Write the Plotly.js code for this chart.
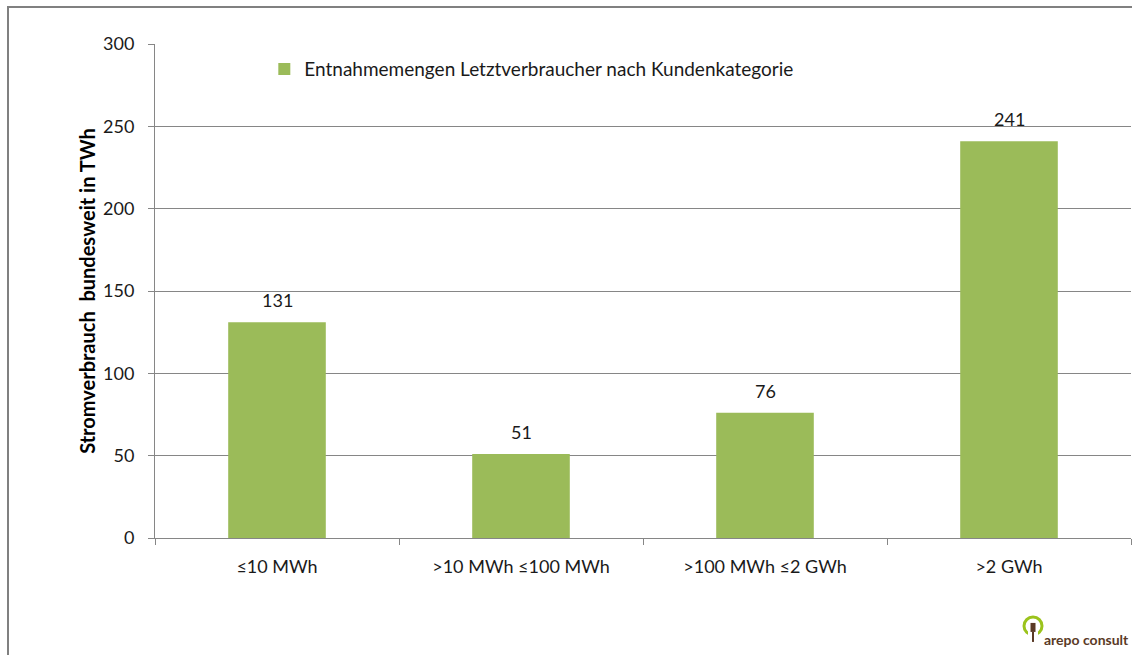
<!DOCTYPE html>
<html>
<head>
<meta charset="utf-8">
<script src="https://cdn.plot.ly/plotly-3.0.1.min.js"></script>
<style>
  html, body { margin: 0; padding: 0; background: #ffffff; }
  #chart { width: 1132px; height: 655px; position: absolute; left: 0; top: 0; }
  #frame { position: absolute; left: 7px; top: 6px; width: 1140px; height: 660px;
           border-left: 2px solid #808080; border-top: 2px solid #808080; pointer-events: none; }
</style>
</head>
<body>
<div id="chart"></div>
<div id="frame"></div>
<script>
const categories = ["≤10 MWh", ">10 MWh ≤100 MWh", ">100 MWh ≤2 GWh", ">2 GWh"];
const values = [131, 51, 76, 241];
const seriesName = "Entnahmemengen Letztverbraucher nach Kundenkategorie";
const yTicks = [0, 50, 100, 150, 200, 250, 300];
const yTitle = "Stromverbrauch  bundesweit in TWh";
const logoText = "arepo consult";

const FONT = "Lato, 'Open Sans', sans-serif";

const trace = {
  type: "bar",
  x: categories,
  y: values,
  name: seriesName,
  marker: { color: "#9BBB59" },
  hoverinfo: "x+y"
};

const annotations = categories.map((c, i) => ({
  x: c, y: values[i], xref: "x", yref: "y",
  text: String(values[i]),
  showarrow: false, yanchor: "bottom", yshift: 9,
  font: { family: FONT, size: 18, color: "#1a1a1a" }
}));

annotations.push({
  xref: "paper", yref: "paper", x: 1.0, y: -0.205, xanchor: "right", yanchor: "middle",
  text: "<b>" + logoText + "</b>", showarrow: false,
  font: { family: FONT, size: 14, color: "#5a3a26" }
});

const layout = {
  width: 1132, height: 655,
  margin: { l: 155, r: 1, t: 44, b: 117 },
  paper_bgcolor: "#ffffff", plot_bgcolor: "#ffffff",
  font: { family: FONT, size: 18, color: "#1a1a1a" },
  bargap: 0.6,
  showlegend: true,
  legend: {
    x: 0.112, y: 0.949, xanchor: "left", yanchor: "middle",
    orientation: "h", font: { family: FONT, size: 19, color: "#1a1a1a" },
    bgcolor: "rgba(0,0,0,0)"
  },
  xaxis: {
    type: "category",
    showline: true, linecolor: "#868686", linewidth: 1,
    ticks: "outside", tickson: "boundaries", ticklen: 6, tickcolor: "#868686",
    ticklabelstandoff: 12,
    tickfont: { family: FONT, size: 18, color: "#1a1a1a" },
    showgrid: false, zeroline: false, fixedrange: true
  },
  yaxis: {
    range: [0, 300], tickvals: yTicks, ticktext: yTicks.map(String),
    showline: true, linecolor: "#868686", linewidth: 1,
    ticks: "outside", ticklen: 6, tickcolor: "#868686",
    ticklabelstandoff: 10,
    tickfont: { family: FONT, size: 18, color: "#1a1a1a" },
    showgrid: true, gridcolor: "#868686", gridwidth: 1,
    zeroline: false,
    title: { text: "<b>" + yTitle + "</b>", font: { family: FONT, size: 20, color: "#000000" }, standoff: 2 }
  },
  annotations: annotations,
  shapes: [
    { type: "circle", xref: "paper", yref: "paper", xsizemode: "pixel", ysizemode: "pixel",
      xanchor: 0.8996, yanchor: -0.178, x0: -9, x1: 9, y0: -9, y1: 9,
      line: { color: "#9BC31C", width: 3 } },
    { type: "rect", xref: "paper", yref: "paper", xsizemode: "pixel", ysizemode: "pixel",
      xanchor: 0.8996, yanchor: -0.178, x0: -5, x1: 5, y0: -12, y1: -4,
      fillcolor: "#ffffff", line: { width: 0 } },
    { type: "rect", xref: "paper", yref: "paper", xsizemode: "pixel", ysizemode: "pixel",
      xanchor: 0.8996, yanchor: -0.178, x0: -2.5, x1: 2.5, y0: -6, y1: 3,
      fillcolor: "#5a3a26", line: { width: 0 } },
    { type: "line", xref: "paper", yref: "paper", xsizemode: "pixel", ysizemode: "pixel",
      xanchor: 0.8996, yanchor: -0.178, x0: 0, x1: 0, y0: -6, y1: -16,
      line: { color: "#5a3a26", width: 2 } }
  ]
};

Plotly.newPlot("chart", [trace], layout, { displayModeBar: false, staticPlot: true });
</script>
</body>
</html>
